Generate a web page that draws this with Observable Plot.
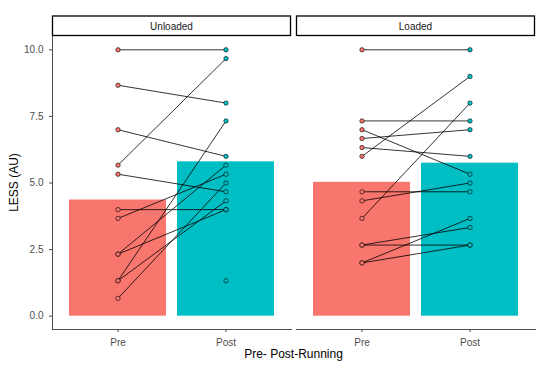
<!DOCTYPE html>
<html><head><meta charset="utf-8">
<script src="https://cdn.jsdelivr.net/npm/d3@7"></script>
<script src="https://cdn.jsdelivr.net/npm/@observablehq/plot@0.6"></script>
<style>body{margin:0;background:#fff;}</style>
</head><body><div id="chart"></div>
<script>
const panels = ["Unloaded", "Loaded"];
const times = ["Pre", "Post"];
const timeColors = ["#F8766D", "#00BFC4"];
// each index is one participant (pre value, post value)
const unloadedPre  = [10, 8.67, 7.0, 5.67, 5.33, 4.0, 3.67, 2.33, 2.33, 1.33, 1.33, 0.67, null];
const unloadedPost = [10, 8.0, 6.0, 9.67, 4.67, 4.0, 5.33, 5.67, 4.0, 7.33, 4.33, 5.0, 1.33];
const loadedPre  = [10, 7.33, 7.0, 6.67, 6.33, 6.0, 4.67, 4.33, 3.67, 2.67, 2.67, 2.0, 2.0];
const loadedPost = [10, 7.33, 5.33, 7.0, 6.0, 9.0, 4.67, 5.0, 8.0, 3.33, 2.67, 3.67, 2.67];
const yTicks = [0, 2.5, 5, 7.5, 10];
const yDomain = [-0.5, 10.5];
const yLabel = "LESS (AU)";
const xLabel = "Pre- Post-Running";

const rows = [];
[[panels[0], unloadedPre, unloadedPost], [panels[1], loadedPre, loadedPost]].forEach(([panel, pre, post]) => {
  pre.forEach((v, i) => rows.push({panel, time: "Pre", value: v, id: panel + i}));
  post.forEach((v, i) => rows.push({panel, time: "Post", value: v, id: panel + i}));
});

const font = "'Liberation Sans', Arial, sans-serif";
const plot = Plot.plot({
  width: 550, height: 368,
  marginLeft: 52, marginRight: 15, marginTop: 36, marginBottom: 39,
  style: {fontFamily: font, fontSize: "10px", background: "#fff", color: "#4D4D4D"},
  fx: {domain: panels, paddingInner: 0.0225, paddingOuter: 0, axis: null, label: null},
  x: {domain: times, paddingInner: 0.1, paddingOuter: 0.15, label: null, tickSize: 3, line: true},
  y: {domain: yDomain, ticks: yTicks, tickFormat: d3.format(".1f"), label: null, line: true, tickSize: 3},
  color: {domain: times, range: timeColors},
  marks: [
    Plot.barY(rows, Plot.groupX({y: "mean"}, {fx: "panel", x: "time", y: "value", fill: "time"})),
    Plot.line(rows, {fx: "panel", x: "time", y: "value", z: "id", stroke: "#000", strokeWidth: 0.8}),
    Plot.dot(rows, {fx: "panel", x: "time", y: "value", fill: "time", stroke: "#000", strokeWidth: 0.6, r: 2.2})
  ]
});
document.getElementById("chart").appendChild(plot);

// facet strips and shared axis titles
const svg = d3.select(plot);
const fx = plot.scale("fx");
const ys = plot.scale("y");
const bw = fx.bandwidth;
const g = svg.append("g");
panels.forEach(p => {
  const x0 = fx.apply(p);
  g.append("rect").attr("x", x0 + 0.5).attr("y", 16).attr("width", bw - 1).attr("height", 19.5)
    .attr("fill", "#fff").attr("stroke", "#000").attr("stroke-width", 1.3);
  g.append("text").attr("x", x0 + bw / 2).attr("y", 26).attr("dy", "0.35em")
    .attr("text-anchor", "middle").attr("fill", "#1A1A1A").style("font-size", "10px").style("font-family", font).text(p);
});
const r = fx.range;
svg.append("text").attr("x", (r[0] + r[1]) / 2).attr("y", 358).attr("text-anchor", "middle")
  .attr("fill", "#000").style("font-size", "12px").style("font-family", font).text(xLabel);
const yMid = (ys.range[0] + ys.range[1]) / 2;
svg.append("text").attr("transform", `translate(18,${yMid}) rotate(-90)`).attr("text-anchor", "middle")
  .attr("fill", "#000").style("font-size", "12px").style("font-family", font).text(yLabel);
</script>
</body></html>
